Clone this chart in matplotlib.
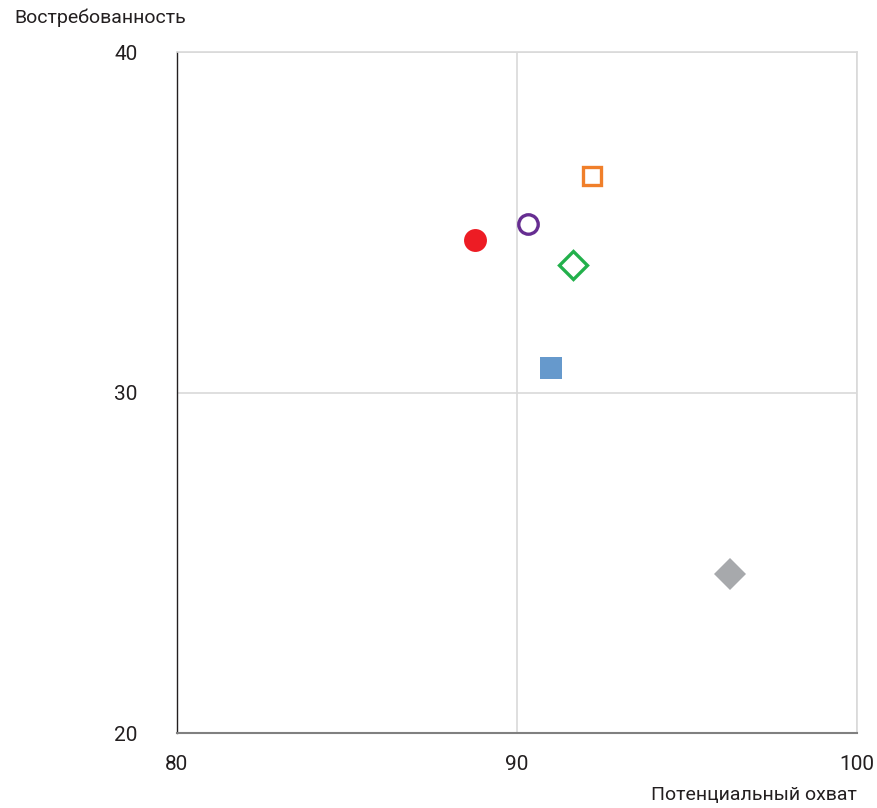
import matplotlib
matplotlib.use("Agg")
import matplotlib.pyplot as plt

plt.rcParams['font.family'] = ['Roboto', 'DejaVu Sans']

# Point data: potential reach (x) vs demand (y)
reach = [88.77, 90.33, 92.21, 91.65, 91.0, 96.27]
demand = [34.48, 34.95, 36.36, 33.74, 30.72, 24.67]
colors = ['#ED1C24', '#662D91', '#F07F2A', '#22B04B', '#6699CC', '#A7A9AC']
markers = ['o', 'o', 's', 'D', 's', 'D']
filled = [True, False, False, False, True, True]
sizes = [16.5, 14, 13.5, 14.5, 16, 16.5]

x_ticks = [80, 90, 100]
y_ticks = [20, 30, 40]
x_label = 'Потенциальный охват'
y_label = 'Востребованность'

fig = plt.figure(figsize=(8.77, 8.08), dpi=100)
ax = fig.add_axes([0.2013, 0.0928, 0.7757, 0.8428])

for x, y, c, m, f, s in zip(reach, demand, colors, markers, filled, sizes):
    ax.plot([x], [y], linestyle='none', marker=m, markersize=s,
            markerfacecolor=c if f else 'white', markeredgecolor=c,
            markeredgewidth=0 if f else 2.4, zorder=3)

ax.set_xlim(80, 100)
ax.set_ylim(20, 40)
ax.set_xticks(x_ticks)
ax.set_yticks(y_ticks)
ax.tick_params(length=0, labelsize=15, colors='#231F20')
ax.tick_params(axis='x', pad=16)
ax.tick_params(axis='y', pad=28)
ax.grid(True, color='#D9D9D9', linewidth=1.2)
ax.set_axisbelow(True)

ax.spines['left'].set_color('#231F20')
ax.spines['left'].set_linewidth(1.0)
ax.spines['bottom'].set_color('#808080')
ax.spines['bottom'].set_linewidth(1.5)
for side in ('top', 'right'):
    ax.spines[side].set_color('#D9D9D9')
    ax.spines[side].set_linewidth(1.2)

fig.text(14 / 877, 1 - 18 / 808, y_label, fontsize=14, color='#231F20',
         ha='left', va='center')
fig.text(857 / 877, 1 - 795 / 808, x_label, fontsize=14, color='#231F20',
         ha='right', va='center')

fig.savefig('out.png', dpi=100)
